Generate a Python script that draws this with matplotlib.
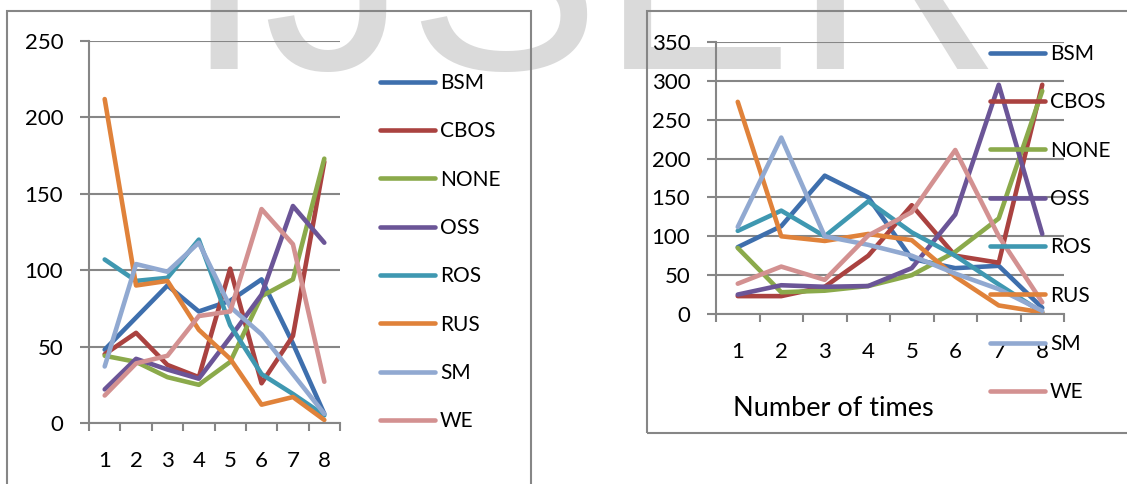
import matplotlib
matplotlib.use("Agg")
import matplotlib.pyplot as plt
from matplotlib.patches import Rectangle

categories = [1, 2, 3, 4, 5, 6, 7, 8]
series_names = ["BSM", "CBOS", "NONE", "OSS", "ROS", "RUS", "SM", "WE"]
colors = ["#3E6FAD", "#AA4240", "#8BAA4B", "#6B5597", "#3F98B1", "#E0823A", "#91A9D1", "#D39191"]

# left chart
left_bsm = [48, 69, 90, 73, 80, 94, 52, 6]
left_cbos = [45, 59, 38, 30, 101, 26, 57, 171]
left_none = [44, 40, 30, 25, 40, 83, 94, 173]
left_oss = [22, 42, 35, 29, 56, 84, 142, 118]
left_ros = [107, 93, 95, 120, 64, 32, 19, 5]
left_rus = [212, 90, 93, 61, 42, 12, 17, 2]
left_sm = [37, 104, 99, 118, 76, 58, 32, 6]
left_we = [18, 39, 44, 70, 73, 140, 117, 27]

# right chart
right_bsm = [86, 113, 178, 150, 71, 59, 62, 8]
right_cbos = [23, 23, 35, 75, 140, 75, 66, 295]
right_none = [85, 28, 30, 36, 50, 80, 123, 287]
right_oss = [25, 37, 35, 36, 59, 128, 295, 103]
right_ros = [107, 133, 100, 145, 105, 75, 38, 2]
right_rus = [273, 100, 94, 103, 95, 48, 11, 2]
right_sm = [112, 227, 100, 89, 75, 52, 32, 4]
right_we = [39, 61, 44, 101, 131, 211, 100, 15]

left_ticks = [0, 50, 100, 150, 200, 250]
right_ticks = [0, 50, 100, 150, 200, 250, 300, 350]
x_title = "Number of times"
watermark = "IJSER"

W, H = 1127, 484
fig = plt.figure(figsize=(W / 100, H / 100), dpi=100)
fig.patch.set_facecolor("white")

GRID = "#868686"
FONT = "Lato"

fig.text(183 / W, 1 - 69 / H, watermark, fontsize=208, family="Liberation Sans",
         color="#dadada", ha="left", va="baseline", zorder=-10)

# frames
fig.add_artist(Rectangle((7 / W, -0.1), (531 - 7) / W, 1.1 - 11 / H, transform=fig.transFigure,
                         fill=False, edgecolor=GRID, lw=1.5, zorder=-5))
fig.add_artist(Rectangle((647 / W, 1 - 433 / H), 0.5, (433 - 11) / H, transform=fig.transFigure,
                         fill=False, edgecolor=GRID, lw=1.5, zorder=-5))


def setup(ax, ymax, ticks):
    ax.set_facecolor("none")
    ax.set_xlim(0.5, 8.5)
    ax.set_ylim(0, ymax)
    ax.set_yticks(ticks)
    ax.set_xticks([c - 0.5 for c in categories] + [8.5])
    ax.set_xticklabels([])
    ax.set_xticks(categories, minor=True)
    ax.set_xticklabels([str(c) for c in categories], minor=True)
    ax.tick_params(axis="x", which="major", direction="out", length=6, width=1.5, color=GRID)
    ax.tick_params(axis="x", which="minor", length=0, pad=20, labelsize=16)
    ax.tick_params(axis="y", direction="out", length=6.5, width=1.5, color=GRID, pad=12, labelsize=16)
    for lab in ax.get_xticklabels(minor=True) + ax.get_yticklabels():
        lab.set_family(FONT)
    for s in ["top", "right"]:
        ax.spines[s].set_visible(False)
    for s in ["left", "bottom"]:
        ax.spines[s].set_color(GRID)
        ax.spines[s].set_linewidth(1.5)
    ax.yaxis.grid(True, color=GRID, lw=1.5)
    ax.set_axisbelow(True)


ax1 = fig.add_axes([89 / W, 1 - 423 / H, 251 / W, 382 / H])
setup(ax1, 250, left_ticks)
left_data = [left_bsm, left_cbos, left_none, left_oss, left_ros, left_rus, left_sm, left_we]
for name, vals, c in zip(series_names, left_data, colors):
    ax1.plot(categories, vals, color=c, lw=3.3, label=name, solid_capstyle="round",
             solid_joinstyle="round", clip_on=False)

ax2 = fig.add_axes([716 / W, 1 - 314 / H, 348 / W, 272 / H])
setup(ax2, 350, right_ticks)
right_data = [right_bsm, right_cbos, right_none, right_oss, right_ros, right_rus, right_sm, right_we]
for name, vals, c in zip(series_names, right_data, colors):
    ax2.plot(categories, vals, color=c, lw=3.3, label=name, solid_capstyle="round",
             solid_joinstyle="round", clip_on=False)

fig.text(733 / W, 1 - 409 / H, x_title, fontsize=19.5, family=FONT, ha="left", va="center")

leg_kw = dict(loc="upper left", frameon=False, borderpad=0, borderaxespad=0,
              handlelength=2.64, handletextpad=0.24, labelspacing=1.36,
              prop={"family": FONT, "size": 15})
h1, l1 = ax1.get_legend_handles_labels()
fig.legend(h1, l1, bbox_to_anchor=(380 / W, 1 - 73 / H), **leg_kw)
h2, l2 = ax2.get_legend_handles_labels()
fig.legend(h2, l2, bbox_to_anchor=(990 / W, 1 - 44 / H), **leg_kw)

fig.savefig("out.png", dpi=100)
